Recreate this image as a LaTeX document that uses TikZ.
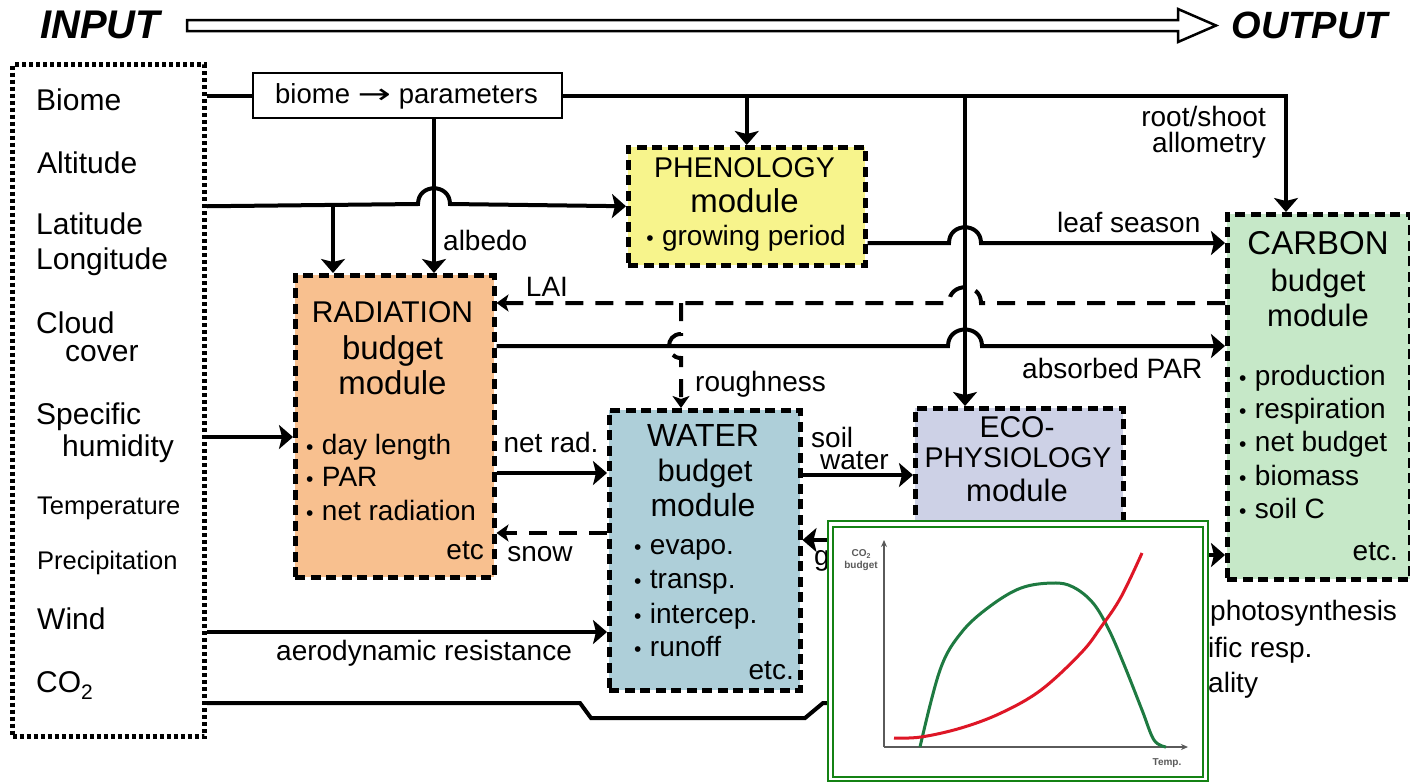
\documentclass[tikz,border=0pt]{standalone}
\usepackage{fontspec}
\setmainfont{Liberation Sans}
\newfontfamily\symfont{DejaVu Sans}
\usetikzlibrary{arrows.meta}
\newcommand\fsz[1]{\fontsize{#1}{#1}\selectfont}
\newcommand\bul{{\fsz{21}•}\hspace{0.3em}}
\definecolor{phenfill}{RGB}{247,244,140}
\definecolor{radfill}{RGB}{248,192,143}
\definecolor{watfill}{RGB}{174,207,217}
\definecolor{ecofill}{RGB}{205,209,230}
\definecolor{carfill}{RGB}{198,232,200}
\definecolor{insetgreen}{RGB}{20,130,20}
\definecolor{curvegreen}{RGB}{30,122,65}
\definecolor{curvered}{RGB}{222,22,38}
\definecolor{axisgray}{RGB}{90,90,90}
\begin{document}
\begin{tikzpicture}[x=1pt,y=-1pt,
  lbl/.style={inner sep=0pt, text depth=0pt, font=\fsz{28},
    execute at begin node={\vphantom{I}}},
  modbox/.style={draw, line width=4.5pt, dash pattern=on 10pt off 5.5pt, anchor=north west, inner sep=0pt},
  conn/.style={line width=4pt},
  arr/.style={conn, -{Stealth[length=14pt,width=24pt,inset=3pt]}},
  darr/.style={conn, dash pattern=on 18pt off 12pt, -{Stealth[length=12pt,width=17pt,inset=3pt]}}]
\useasboundingbox (0,0) rectangle (1410,782);

% ---- headline ----
\node[lbl, font=\fsz{40}\bfseries\itshape, anchor=west] (tin) at (40,25) {INPUT};
\node[lbl, font=\fsz{38}\bfseries\itshape, anchor=east] (tout) at (1388,25) {OUTPUT};
\draw[line width=2.5pt, fill=white] (187,20) -- (1178,20) -- (1178,9) -- (1216,25.5)
  -- (1178,42) -- (1178,31) -- (187,31) -- cycle;

% ---- input column ----
\node[draw, line width=5pt, dash pattern=on 4pt off 3pt, anchor=north west, inner sep=0pt,
  minimum width=192pt, minimum height=672pt] (inp) at (10,62) {};
\begin{scope}[every node/.style={lbl, font=\fsz{30}, anchor=west}]
  \node (iBiome) at (36,100) {Biome};
  \node (iAlt) at (37,163) {Altitude};
  \node (iLat) at (36,224) {Latitude};
  \node (iLon) at (36,259) {Longitude};
  \node (iCloud) at (36,323) {Cloud};
  \node (iCover) at (65,351) {cover};
  \node (iSpec) at (36,414) {Specific};
  \node (iHum) at (62,446) {humidity};
  \node[font=\fsz{25.5}] (iTemp) at (37,506) {Temperature};
  \node[font=\fsz{25.5}] (iPrec) at (37,560) {Precipitation};
  \node (iWind) at (37,619) {Wind};
  \node (iCO) at (36,682) {CO\raisebox{-0.22em}{\fsz{21}2}};
\end{scope}

% ---- parameter box and modules ----
\node[draw, line width=2pt, fill=white, anchor=north west, inner sep=0pt,
  minimum width=309pt, minimum height=45pt] (bp) at (252,72) {};
\node[lbl, font=\fsz{27.5}] (bpT) at (406.5,94) {biome \scalebox{1.45}[1]{\symfont →} parameters};

\node[modbox, fill=phenfill, minimum width=237pt, minimum height=118pt] (phen) at (626,145) {};
\node[modbox, fill=radfill, minimum width=199pt, minimum height=302pt] (rad) at (293,273) {};
\node[modbox, fill=watfill, minimum width=191pt, minimum height=280pt] (wat) at (607,408) {};
\node[modbox, fill=ecofill, minimum width=208pt, minimum height=154pt] (eco) at (913,406) {};
\node[modbox, fill=carfill, minimum width=183pt, minimum height=365pt] (car) at (1225,212) {};

% module texts
\node[lbl, font=\fsz{28.5}] (phT1) at (744.5,168) {PHENOLOGY};
\node[lbl, font=\fsz{33}] (phT2) at (744.5,201) {module};
\node[lbl] (phT3) at (746,235) {\bul growing period};

\node[lbl, font=\fsz{30}] (raT1) at (392.5,312) {RADIATION};
\node[lbl, font=\fsz{33}] (raT2) at (392.5,348) {budget};
\node[lbl, font=\fsz{33}] (raT3) at (392.5,383) {module};
\node[lbl, anchor=west] (raB1) at (306,444) {\bul day length};
\node[lbl, anchor=west] (raB2) at (306,477) {\bul PAR};
\node[lbl, anchor=west] (raB3) at (306,510) {\bul net radiation};
\node[lbl, anchor=east] (raE) at (484,550) {etc};

\node[lbl, font=\fsz{32}] (waT1) at (703,435) {WATER};
\node[lbl, font=\fsz{31}] (waT2) at (705,470) {budget};
\node[lbl, font=\fsz{32}] (waT3) at (703,505) {module};
\node[lbl, anchor=west] (waB1) at (634,545) {\bul evapo.};
\node[lbl, anchor=west] (waB2) at (634,579) {\bul transp.};
\node[lbl, anchor=west] (waB3) at (634,613) {\bul intercep.};
\node[lbl, anchor=west] (waB4) at (634,646) {\bul runoff};
\node[lbl, anchor=east] (waE) at (794,670) {etc.};

\node[lbl, font=\fsz{30}] (ecT1) at (1017,427) {ECO-};
\node[lbl, font=\fsz{28.5}] (ecT2) at (1018,458) {PHYSIOLOGY};
\node[lbl, font=\fsz{31}] (ecT3) at (1017,490) {module};

\node[lbl, font=\fsz{33}] (caT1) at (1318,243) {CARBON};
\node[lbl, font=\fsz{31}] (caT2) at (1318,280) {budget};
\node[lbl, font=\fsz{31}] (caT3) at (1318,315) {module};
\node[lbl, anchor=west] (caB1) at (1239,375) {\bul production};
\node[lbl, anchor=west] (caB2) at (1239,408) {\bul respiration};
\node[lbl, anchor=west] (caB3) at (1239,441) {\bul net budget};
\node[lbl, anchor=west] (caB4) at (1239,475) {\bul biomass};
\node[lbl, anchor=west] (caB5) at (1239,508) {\bul soil C};
\node[lbl, anchor=east] (caE) at (1398,551) {etc.};

% ---- connectors ----
% biome line and parameter distribution
\draw[conn] (inp.east |- bp.west) -- (bp.west);
\draw[arr] (bp.east) -| (car.north -| 1286,0);
\draw[arr] (phen.north |- bp.east) -- (phen.north);
\draw[arr] (bp.east -| 965,0) -- (eco.north -| 965,0);
\draw[arr] (bp.south -| 434,0) -- (rad.north -| 434,0);

% latitude / longitude
\draw[arr] (inp.east |- phen.west) -- (418,204) .. controls (418,183) and (450,183) .. (450,204) -- (phen.west);
\coordinate (latJ) at (333,204);
\draw[arr] (latJ) -- (rad.north -| latJ);

% phenology -> carbon
\draw[arr] (phen.east |- 0,243) -- (949,243) .. controls (949,222) and (981,222) .. (981,243) -- (car.west |- 0,243);

% LAI feedback and roughness
\draw[darr] (car.west |- 0,303) -- (981,303) .. controls (981,282) and (949,282) .. (949,303) -- (rad.east |- 0,303);
\coordinate (laiJ) at (681,303);
\draw[darr] (laiJ) -- (681,334) .. controls (665,334) and (665,358) .. (681,358) -- (wat.north -| laiJ);

% absorbed PAR
\draw[arr] (rad.east |- 0,346) -- (948,346) .. controls (948,324) and (982,324) .. (982,346) -- (car.west |- 0,346);

% humidity, net radiation, snow, wind
\draw[arr] (inp.east |- 0,437) -- (rad.west |- 0,437);
\draw[arr] (rad.east |- 0,473) -- (wat.west |- 0,473);
\draw[darr] (wat.west |- 0,533) -- (rad.east |- 0,533);
\draw[arr] (inp.east |- 0,632) -- (wat.west |- 0,632);

% CO2
\coordinate (co2end) at (870,703);
\draw[conn] (inp.east |- co2end) -- (580,703) -- (591,718) -- (805,718) -- (823,703) -- (co2end);

% water <-> ecophysiology, ecophysiology -> carbon
\draw[arr] (wat.east |- 0,475) -- (eco.west |- 0,475);
\coordinate (gsrc) at (880,540);
\draw[arr] (gsrc) -- (wat.east |- gsrc);
\coordinate (csrc) at (1180,555);
\draw[arr] (csrc) -- (car.west |- csrc);

% ---- connector labels ----
\node[lbl, anchor=west] (lAlb) at (443,240) {albedo};
\node[lbl, anchor=west] (lLeaf) at (1057,222) {leaf season};
\node[lbl, anchor=east] (lRoot) at (1266,116) {root/shoot};
\node[lbl, anchor=east] (lAllo) at (1266,142) {allometry};
\node[lbl] (lLAI) at (547,287) {LAI};
\node[lbl, anchor=west] (lAbs) at (1022,368) {absorbed PAR};
\node[lbl, anchor=west] (lRough) at (695,381) {roughness};
\node[lbl] (lNet) at (551,442) {net rad.};
\node[lbl] (lSnow) at (540,552) {snow};
\node[lbl, anchor=west] (lSoil) at (811,437) {soil};
\node[lbl, anchor=west] (lWater) at (820,460) {water};
\node[lbl, anchor=west] (lAero) at (276,650) {aerodynamic resistance};
\node[lbl, anchor=west] (lG) at (814,556) {g};

% ---- temperature response inset ----
\draw[insetgreen, line width=2pt, fill=white] (828,521) rectangle (1208,781);
\draw[insetgreen, line width=2pt] (833,527) rectangle (1203,777);
\draw[axisgray, line width=1.5pt, -{Stealth[length=7pt,width=6pt]}] (884,747) -- (884,540);
\draw[axisgray, line width=1.5pt, -{Stealth[length=7pt,width=6pt]}] (884,747) -- (1188,747);
\node[lbl, font=\fsz{10}\bfseries, text=axisgray] (iCOb) at (861,553) {CO\raisebox{-0.2em}{\fsz{7}2}};
\node[lbl, font=\fsz{10}\bfseries, text=axisgray] (iBud) at (861,565) {budget};
\node[lbl, font=\fsz{10}\bfseries, text=axisgray] (iTmp) at (1167,762) {Temp.};
\draw[curvegreen, line width=3pt] plot[smooth, tension=0.6] coordinates {
  (920,747) (940,670) (961,633) (989,607) (1021,588) (1053,583) (1073,587)
  (1093,603) (1109,630) (1125,667) (1142,710) (1154,740) (1166,747)};
\draw[curvered, line width=3pt] plot[smooth, tension=0.6] coordinates {
  (894,738) (921,737) (961,728) (1001,713) (1041,690) (1081,653) (1101,627)
  (1121,597) (1142,553)};

% ---- outputs beside the inset ----
\node[lbl, anchor=west] (oPhot) at (1210,610) {photosynthesis};
\node[lbl, anchor=west] (oResp) at (1208,647) {ific resp.};
\node[lbl, anchor=west] (oMort) at (1208,682) {ality};
\end{tikzpicture}
\end{document}
